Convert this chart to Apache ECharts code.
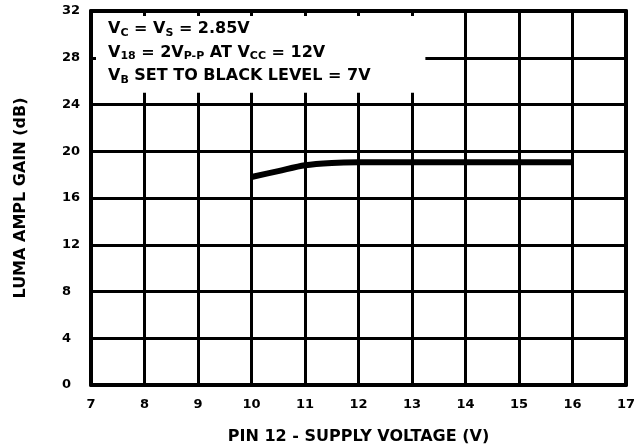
<!DOCTYPE html>
<html><head><meta charset="utf-8">
<script src="https://cdn.jsdelivr.net/npm/echarts@6/dist/echarts.min.js"></script>
<style>html,body{margin:0;padding:0;background:#fff}#c{width:637px;height:446px}</style>
</head><body><div id="c"></div>
<script>
var xTicks = [7,8,9,10,11,12,13,14,15,16,17];
var yTicks = [0,4,8,12,16,20,24,28,32];
var supplyV = [10, 10.5, 11, 11.5, 12, 13, 14, 15, 16];
var gainDb = [17.8, 18.3, 18.8, 19.0, 19.05, 19.05, 19.05, 19.05, 19.05];
var noteBox = [[7, 25.0], [13.25, 32]];
var xName = 'PIN 12 - SUPPLY VOLTAGE (V)';
var yName = 'LUMA AMPL GAIN (dB)';

var FONT = 'DejaVu Sans';
var chart = echarts.init(document.getElementById('c'));
var data = supplyV.map(function(v,i){return [v, gainDb[i]];});
var lineBlack = {color:'#000', width:3};
var sub = {fontSize:11, fontWeight:'bold', fontFamily:FONT, color:'#000', padding:[8,0,0,0]};
var noteFont = 'bold 16px "DejaVu Sans"';
chart.setOption({
  animation:false,
  backgroundColor:'#fff',
  grid:{left:91, right:11, top:11, bottom:61, containLabel:false, outerBoundsMode:'none'},
  xAxis:[
    {type:'value', position:'bottom', min:xTicks[0], max:xTicks[xTicks.length-1], interval:1, z:0,
     axisLine:{show:true, onZero:false, lineStyle:{color:'#000', width:4}},
     axisTick:{show:false},
     splitLine:{show:true, lineStyle:lineBlack},
     axisLabel:{color:'#000', fontFamily:FONT, fontWeight:'bold', fontSize:13, margin:13},
     name:xName, nameLocation:'middle', nameGap:44,
     nameTextStyle:{color:'#000', fontFamily:FONT, fontWeight:'bold', fontSize:16}},
    {type:'value', position:'top', min:xTicks[0], max:xTicks[xTicks.length-1], interval:1, z:5,
     axisLine:{show:true, onZero:false, lineStyle:{color:'#000', width:4}},
     axisTick:{show:true, inside:true, length:5, lineStyle:{color:'#000', width:3}},
     splitLine:{show:false}, axisLabel:{show:false}}
  ],
  yAxis:[
    {type:'value', position:'left', min:yTicks[0], max:yTicks[yTicks.length-1], interval:4, z:0,
     axisLine:{show:false}, axisTick:{show:false},
     splitLine:{show:true, lineStyle:lineBlack},
     axisLabel:{color:'#000', fontFamily:FONT, fontWeight:'bold', fontSize:13, margin:29, align:'left'},
     name:yName, nameLocation:'middle', nameGap:62, nameRotate:90,
     nameTextStyle:{color:'#000', fontFamily:FONT, fontWeight:'bold', fontSize:16}},
    {type:'value', position:'left', min:yTicks[0], max:yTicks[yTicks.length-1], interval:4, z:5,
     axisLine:{show:true, onZero:false, lineStyle:{color:'#000', width:4}},
     axisTick:{show:true, inside:true, length:5, lineStyle:{color:'#000', width:3}},
     splitLine:{show:false}, axisLabel:{show:false}},
    {type:'value', position:'right', min:yTicks[0], max:yTicks[yTicks.length-1], interval:4, z:5,
     axisLine:{show:true, onZero:false, lineStyle:{color:'#000', width:4}},
     axisTick:{show:false}, splitLine:{show:false}, axisLabel:{show:false}}
  ],
  series:[{
    type:'line', xAxisIndex:0, yAxisIndex:0, data:data, symbol:'none', smooth:0.3,
    lineStyle:{color:'#000', width:6}, z:3,
    markArea:{silent:true, itemStyle:{color:'#fff', opacity:1},
      data:[[{coord:noteBox[0]},{coord:noteBox[1]}]]}
  }],
  graphic:[
    {type:'text', left:108, top:21, z:10, style:{
      text:'V{s|C} = V{s|S} = 2.85V', rich:{s:sub}, font:noteFont, fill:'#000'}},
    {type:'text', left:108, top:44.5, z:10, style:{
      text:'V{s|18} = 2V{s|P-P} AT V{s|CC} = 12V', rich:{s:sub}, font:noteFont, fill:'#000'}},
    {type:'text', left:108, top:68, z:10, style:{
      text:'V{s|B} SET TO BLACK LEVEL = 7V', rich:{s:sub}, font:noteFont, fill:'#000'}}
  ]
});
</script></body></html>
